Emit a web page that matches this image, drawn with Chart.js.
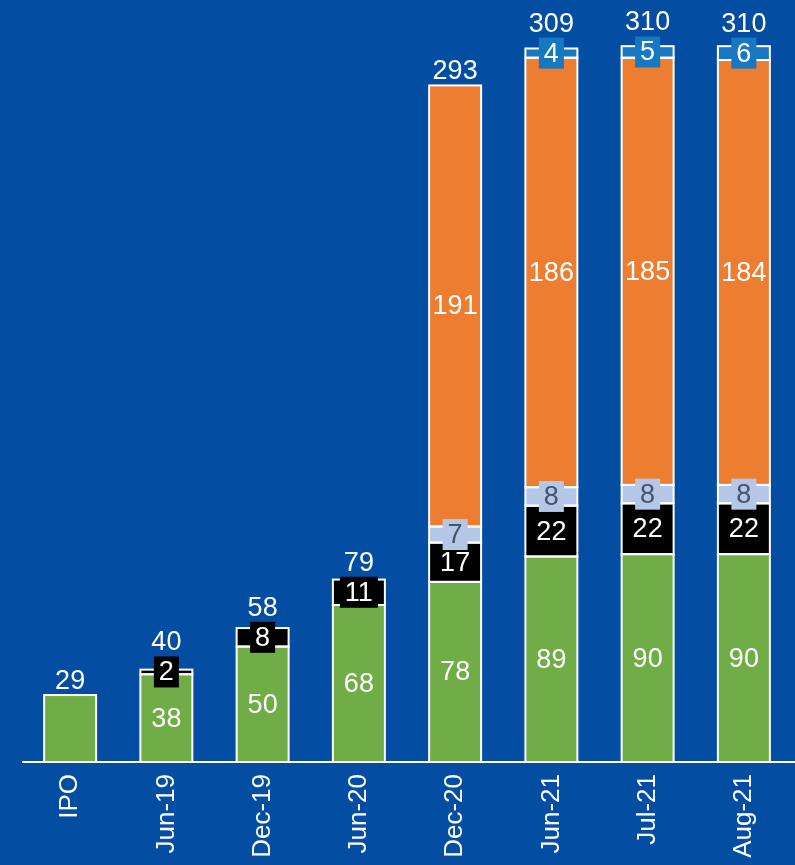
<!DOCTYPE html>
<html>
<head>
<meta charset="utf-8">
<script src="https://cdn.jsdelivr.net/npm/chart.js@4.4.1/dist/chart.umd.min.js"></script>
<style>
  html, body { margin: 0; padding: 0; background: #034EA2; }
  canvas { display: block; }
</style>
</head>
<body>
<canvas id="grafica" width="795" height="865"></canvas>
<script>
// Datos
const categorias = ['IPO', 'Jun-19', 'Dec-19', 'Jun-20', 'Dec-20', 'Jun-21', 'Jul-21', 'Aug-21'];
const verde   = [29, 38, 50, 68, 78, 89, 90, 90];
const negro   = [null, 2, 8, 11, 17, 22, 22, 22];
const celeste = [null, null, null, null, 7, 8, 8, 8];
const naranja = [null, null, null, null, 191, 186, 185, 184];
const azul    = [null, null, null, null, null, 4, 5, 6];
const totales = [29, 40, 58, 79, 293, 309, 310, 310];

const fuente = '"Liberation Sans", Arial, sans-serif';

// fill, texto, caja detras del numero
const series = [
    { data: verde,   fill: '#70AD47', texto: '#FFFFFF', caja: null },
    { data: negro,   fill: '#000000', texto: '#FFFFFF', caja: '#000000' },
    { data: celeste, fill: '#B4C7E7', texto: '#44546A', caja: '#B4C7E7' },
    { data: naranja, fill: '#ED7D31', texto: '#FFFFFF', caja: null },
    { data: azul,    fill: '#1777C0', texto: '#FFFFFF', caja: '#1777C0' }
];

const etiquetas = {
    id: 'etiquetas',
    afterDatasetsDraw(chart) {
        const ctx = chart.ctx;
        const area = chart.chartArea;
        ctx.save();

        // bordes blancos centrados en el borde de cada tramo
        ctx.strokeStyle = '#FFFFFF';
        ctx.lineWidth = 2;
        chart.data.datasets.forEach((ds, i) => {
            chart.getDatasetMeta(i).data.forEach((bar, j) => {
                if (ds.data[j] == null) return;
                const p = bar.getProps(['x', 'y', 'base', 'width'], true);
                ctx.strokeRect(p.x - p.width / 2, p.y, p.width, p.base - p.y);
            });
        });

        // linea del eje
        ctx.beginPath();
        ctx.moveTo(area.left, area.bottom);
        ctx.lineTo(chart.width, area.bottom);
        ctx.stroke();

        ctx.font = '27px ' + fuente;
        ctx.textAlign = 'center';
        ctx.textBaseline = 'middle';

        const topes = totales.map(() => Infinity);
        const xs = totales.map(() => 0);

        chart.data.datasets.forEach((ds, i) => {
            const meta = chart.getDatasetMeta(i);
            meta.data.forEach((bar, j) => {
                const v = ds.data[j];
                if (v == null) return;
                const p = bar.getProps(['x', 'y', 'base'], true);
                xs[j] = p.x;
                topes[j] = Math.min(topes[j], p.y);
                // sin etiqueta interna si la barra tiene un solo tramo
                const tramos = chart.data.datasets.filter(d => d.data[j] != null).length;
                if (tramos < 2) return;
                const cy = (p.y + p.base) / 2;
                const txt = String(v);
                const w = ctx.measureText(txt).width;
                if (ds.caja) {
                    ctx.fillStyle = ds.caja;
                    ctx.fillRect(p.x - w / 2 - 5, cy - 15.5, w + 10, 31);
                    topes[j] = Math.min(topes[j], cy - 15.5);
                }
                ctx.fillStyle = ds.texto;
                ctx.fillText(txt, p.x, cy + 1);
            });
        });

        // totales arriba de cada barra
        ctx.fillStyle = '#FFFFFF';
        ctx.textBaseline = 'alphabetic';
        totales.forEach((t, j) => {
            ctx.fillText(String(t), xs[j], topes[j] - 6);
        });
        ctx.restore();
    }
};

new Chart(document.getElementById('grafica').getContext('2d'), {
    type: 'bar',
    data: {
        labels: categorias,
        datasets: series.map(s => ({
            data: s.data,
            backgroundColor: s.fill,
            borderWidth: 0,
            caja: s.caja,
            texto: s.texto,
            categoryPercentage: 1,
            barPercentage: 0.54
        }))
    },
    options: {
        responsive: false,
        animation: false,
        layout: { padding: { left: 22, right: 3, top: 0, bottom: 0 } },
        plugins: {
            legend: { display: false },
            tooltip: { enabled: false }
        },
        scales: {
            x: {
                stacked: true,
                grid: { display: false, drawTicks: false },
                border: { display: false },
                ticks: {
                    color: '#FFFFFF',
                    font: { size: 26, family: fuente },
                    minRotation: 90,
                    maxRotation: 90,
                    padding: 12
                },
                afterFit(scale) { scale.height = 103; }
            },
            y: {
                stacked: true,
                display: false,
                min: 0,
                max: 330
            }
        }
    },
    plugins: [etiquetas]
});
</script>
</body>
</html>
